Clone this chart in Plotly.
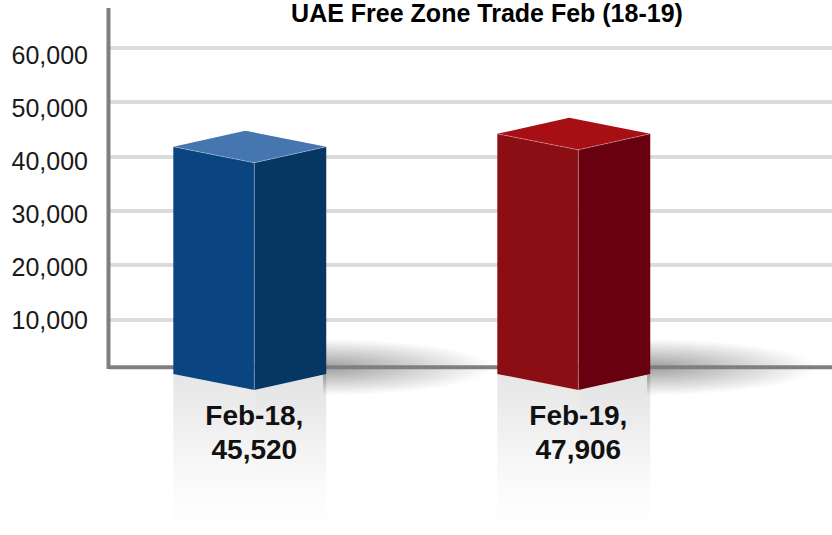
import numpy as np
import plotly.graph_objects as go

# ---------------- data ----------------
CATEGORIES = ["Feb-18", "Feb-19"]
VALUES = [45520, 47906]
TICK_VALUES = [10000, 20000, 30000, 40000, 50000, 60000]
TICK_LABELS = ["10,000", "20,000", "30,000", "40,000", "50,000", "60,000"]
TITLE = "UAE Free Zone Trade Feb (18-19)"

# ---------------- style ----------------
FONT = "Liberation Sans, Arial, Helvetica, sans-serif"
FACE_COLORS = [  # (front-left, front-right, top)
    ("#0A4481", "#053762", "#4676AF"),
    ("#8A0E14", "#68000F", "#A70F15"),
]
UNITS_PER_PX = 10000 / 54.34
Y_RANGE = [-161 * UNITS_PER_PX, 374 * UNITS_PER_PX]
LABEL_UNITS_PER_PX = 10000 / 52.95
Y2_RANGE = [-(535 - 373.1) * LABEL_UNITS_PER_PX, 373.1 * LABEL_UNITS_PER_PX]
X_RANGE = [-0.4485, -0.4485 + 723 / 324]

TOP_DROP = 750      # back vertex of the top face sits a little under the value
DEPTH = 2950        # vertical offset of the 3D depth
LEFT_W = 0.25       # front-left face width (x units)
RIGHT_W = 0.222     # front-right face width (x units)
FLOOR_Y = 6.7 * UNITS_PER_PX
AXIS_TOP = 366 * UNITS_PER_PX
AXIS_BOTTOM = 5 * UNITS_PER_PX

fig = go.Figure()

# reflections under the bars
for i, v in enumerate(VALUES):
    for (xa, xb, yb_a, yb_b, col) in [
        (i - LEFT_W, i, 0, -DEPTH, "#e6e6e6"),
        (i, i + RIGHT_W, -DEPTH, 0, "#e2e2e2"),
    ]:
        fig.add_trace(go.Scatter(
            x=[xa, xb, xb, xa, xa],
            y=[yb_a, yb_b, Y_RANGE[0], Y_RANGE[0], yb_a],
            mode="lines", fill="toself", line=dict(width=0),
            fillgradient=dict(type="vertical",
                              colorscale=[[0, "rgba(255,255,255,1)"], [0.3, "#fbfbfb"], [1, col]]),
            hoverinfo="skip", showlegend=False))

# soft floor shadows to the right of each bar
theta = np.linspace(-np.pi / 2, np.pi / 2, 80)
N = 32
for i, v in enumerate(VALUES):
    xc = i + RIGHT_W - 0.01
    for k in range(1, N + 1):
        f = k / N
        rx = 0.52 * f
        ry = 28 * UNITS_PER_PX * f
        xs = xc + rx * np.cos(theta)
        ys = FLOOR_Y + ry * np.sin(theta)
        fig.add_trace(go.Scatter(
            x=np.r_[xc, xs, xc], y=np.r_[FLOOR_Y - ry, ys, FLOOR_Y + ry],
            mode="lines", fill="toself", line=dict(width=0),
            fillcolor="rgba(0,0,0,0.011)", hoverinfo="skip", showlegend=False))

# floor line
fig.add_trace(go.Scatter(x=X_RANGE, y=[FLOOR_Y, FLOOR_Y], mode="lines",
                         line=dict(color="#7f7f7f", width=4),
                         hoverinfo="skip", showlegend=False))

# pseudo-3D bars
for i, v in enumerate(VALUES):
    left_c, right_c, top_c = FACE_COLORS[i]
    back = v - TOP_DROP
    corner = back - DEPTH
    front = back - 2 * DEPTH
    xl, xr, xb = i - LEFT_W, i + RIGHT_W, i - LEFT_W + RIGHT_W
    # front-left face
    fig.add_trace(go.Scatter(
        x=[xl, i, i, xl, xl], y=[corner, front, -DEPTH, 0, corner],
        mode="lines", fill="toself", fillcolor=left_c, line=dict(width=0),
        hoverinfo="skip", showlegend=False))
    # front-right face
    fig.add_trace(go.Scatter(
        x=[i, xr, xr, i, i], y=[front, corner, 0, -DEPTH, front],
        mode="lines", fill="toself", fillcolor=right_c, line=dict(width=0),
        hoverinfo="skip", showlegend=False))
    # top face
    fig.add_trace(go.Scatter(
        x=[xl, xb, xr, i, xl], y=[corner, back, corner, front, corner],
        mode="lines", fill="toself", fillcolor=top_c, line=dict(width=0),
        hoverinfo="skip", showlegend=False))
    # highlight edges
    fig.add_trace(go.Scatter(
        x=[xl, i, xr, None, i, i], y=[corner, front, corner, None, front, -DEPTH],
        mode="lines", line=dict(color="rgba(255,255,255,0.3)", width=1),
        hoverinfo="skip", showlegend=False))

# category labels
fig.add_trace(go.Scatter(
    x=list(range(len(CATEGORIES))), y=[-44 * UNITS_PER_PX] * len(CATEGORIES),
    mode="text", text=[c + "," for c in CATEGORIES],
    textfont=dict(family=FONT, size=28, color="#111111", weight="bold"),
    textposition="middle center", hoverinfo="skip", showlegend=False))
fig.add_trace(go.Scatter(
    x=list(range(len(CATEGORIES))), y=[-78 * UNITS_PER_PX] * len(CATEGORIES),
    mode="text", text=[f"{v:,}" for v in VALUES],
    textfont=dict(family=FONT, size=28, color="#111111", weight="bold"),
    textposition="middle center", hoverinfo="skip", showlegend=False))

# dummy trace for the label axis
fig.add_trace(go.Scatter(x=[X_RANGE[0]] * len(TICK_VALUES), y=TICK_VALUES, yaxis="y2",
                         mode="markers", marker=dict(opacity=0),
                         hoverinfo="skip", showlegend=False))

# vertical axis line
fig.add_shape(type="line", xref="paper", yref="y", x0=-0.0007, x1=-0.0007,
              y0=AXIS_BOTTOM, y1=AXIS_TOP, line=dict(color="#7f7f7f", width=4),
              layer="above")

fig.update_layout(
    width=832, height=535,
    margin=dict(l=109, r=0, t=0, b=0, pad=0),
    paper_bgcolor="white", plot_bgcolor="white",
    hovermode=False, showlegend=False,
    title=dict(text="<b>" + TITLE + "</b>", x=487 / 832, xref="container", xanchor="center",
               y=1 - 13 / 535, yref="container", yanchor="middle",
               font=dict(family=FONT, size=25, color="#000000")),
    xaxis=dict(range=X_RANGE, visible=False, fixedrange=True),
    yaxis=dict(range=Y_RANGE, tickvals=TICK_VALUES, showticklabels=False,
               showgrid=True, gridcolor="#DCDCDC", gridwidth=4,
               zeroline=False, showline=False, ticks="", fixedrange=True),
    yaxis2=dict(range=Y2_RANGE, overlaying="y", side="left", tickvals=TICK_VALUES,
                ticktext=TICK_LABELS, showgrid=False, zeroline=False, showline=False,
                ticks="", ticklabelstandoff=20,
                tickfont=dict(family=FONT, size=25, color="#1a1a1a"), fixedrange=True),
)

fig.write_html("out.html")
